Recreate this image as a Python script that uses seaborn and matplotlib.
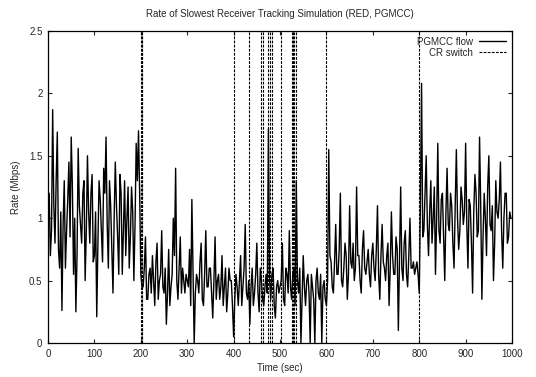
import numpy as np
import pandas as pd
import seaborn as sns
import matplotlib
matplotlib.use("Agg")
import matplotlib.pyplot as plt

# rate samples at t = 0, 5, 10, ...
rate_0_100 = [1.0, 0.7, 1.87, 0.8, 1.69, 0.6, 0.26, 1.3, 0.9, 1.45, 1.65, 0.55, 0.25, 1.56, 0.95, 1.2, 0.5, 1.5, 0.8, 1.35]
rate_100_200 = [0.7, 0.21, 1.3, 0.9, 1.4, 1.65, 0.6, 1.1, 0.4, 1.45, 0.85, 1.35, 0.55, 1.3, 1.0, 0.6, 1.25, 0.5, 1.6, 1.7]
rate_200_300 = [0.55, 0.45, 0.85, 0.35, 0.6, 0.7, 0.3, 0.8, 0.5, 0.9, 0.4, 0.15, 0.75, 0.45, 1.0, 1.4, 0.35, 0.85, 0.6, 0.4]
rate_300_400 = [0.5, 0.75, 1.15, 0.0, 0.55, 0.4, 0.8, 0.3, 0.9, 0.45, 0.6, 0.2, 0.85, 0.5, 0.35, 0.7, 0.45, 0.25, 0.6, 0.5]
rate_400_500 = [0.05, 0.55, 0.3, 0.7, 0.45, 0.95, 0.35, 0.15, 0.6, 0.4, 0.8, 0.25, 0.5, 0.3, 0.55, 1.72, 0.35, 0.6, 0.2, 0.5]
rate_500_600 = [0.45, 0.8, 0.3, 0.55, 0.9, 0.35, 0.6, 1.3, 0.4, 0.0, 0.7, 0.3, 0.55, 0.0, 0.45, 0.0, 0.6, 0.35, 0.0, 0.5]
rate_600_700 = [0.3, 1.55, 0.65, 0.4, 0.95, 0.55, 1.2, 0.45, 0.8, 0.35, 1.1, 0.6, 0.5, 1.25, 0.7, 0.4, 0.9, 0.55, 0.75, 0.45]
rate_700_800 = [0.8, 0.5, 1.1, 0.35, 0.95, 0.6, 0.7, 0.3, 1.05, 0.55, 0.85, 0.1, 1.25, 0.5, 0.9, 0.45, 1.0, 0.6, 0.55, 0.65]
rate_800_900 = [0.4, 2.08, 0.9, 1.5, 0.7, 1.3, 1.0, 0.55, 1.6, 0.8, 1.2, 0.5, 1.4, 0.9, 1.1, 0.6, 1.55, 0.75, 1.25, 0.95]
rate_900_1000 = [1.6, 0.6, 1.1, 0.4, 1.35, 0.85, 1.65, 0.35, 1.2, 0.7, 1.5, 0.9, 0.5, 1.3, 1.0, 1.45, 0.6, 1.2, 0.8, 1.05]

# rate samples at t = 2.5, 7.5, 12.5, ...
mid_0_100 = [1.2, 0.9, 1.1, 1.3, 0.75, 1.05, 0.95, 0.6, 1.15, 0.85, 1.25, 1.0, 0.7, 1.1, 0.8, 1.3, 0.9, 1.05, 1.2, 0.65]
mid_100_200 = [1.05, 0.8, 1.15, 0.65, 1.2, 0.95, 1.3, 0.75, 1.0, 1.1, 0.55, 1.2, 0.9, 0.7, 1.25, 0.85, 1.05, 0.95, 1.3, 1.2]
mid_200_300 = [0.45, 0.6, 0.35, 0.55, 0.4, 0.5, 0.65, 0.35, 0.55, 0.45, 0.6, 0.4, 0.3, 0.55, 0.7, 0.5, 0.6, 0.4, 0.5, 0.55]
mid_300_400 = [0.45, 0.3, 0.6, 0.4, 0.5, 0.65, 0.35, 0.55, 0.45, 0.6, 0.4, 0.5, 0.35, 0.55, 0.45, 0.3, 0.6, 0.4, 0.5, 0.3]
mid_400_500 = [0.35, 0.45, 0.5, 0.3, 0.6, 0.4, 0.5, 0.45, 0.3, 0.55, 0.4, 0.6, 0.35, 0.45, 0.4, 0.5, 0.55, 0.3, 0.45, 0.4]
mid_500_600 = [0.5, 0.35, 0.6, 0.4, 0.45, 0.55, 0.3, 0.5, 0.6, 0.35, 0.45, 0.5, 0.4, 0.55, 0.35, 0.5, 0.4, 0.55, 0.45, 0.35]
mid_600_700 = [0.5, 0.7, 0.45, 0.65, 0.55, 0.75, 0.5, 0.6, 0.7, 0.55, 0.65, 0.8, 0.6, 0.7, 0.5, 0.75, 0.6, 0.65, 0.55, 0.7]
mid_700_800 = [0.6, 0.75, 0.55, 0.7, 0.65, 0.5, 0.8, 0.6, 0.7, 0.55, 0.75, 0.65, 0.6, 0.8, 0.55, 0.7, 0.6, 0.65, 0.6, 0.55]
mid_800_900 = [1.1, 0.85, 1.2, 0.95, 1.05, 0.8, 1.25, 1.0, 0.9, 1.15, 0.85, 1.05, 0.95, 1.2, 0.8, 1.1, 1.0, 0.9, 1.15, 1.05]
mid_900_1000 = [0.95, 1.15, 0.8, 1.05, 1.2, 0.9, 1.1, 0.85, 1.0, 1.25, 0.95, 1.1, 0.8, 1.05, 1.15, 0.9, 1.0, 1.2, 0.85, 1.0]

rate = (rate_0_100 + rate_100_200 + rate_200_300 + rate_300_400 + rate_400_500
        + rate_500_600 + rate_600_700 + rate_700_800 + rate_800_900 + rate_900_1000)
mid = (mid_0_100 + mid_100_200 + mid_200_300 + mid_300_400 + mid_400_500
       + mid_500_600 + mid_600_700 + mid_700_800 + mid_800_900 + mid_900_1000)
time = [5 * i for i in range(len(rate))]
time_mid = [5 * i + 2.5 for i in range(len(mid))]

# times of the CR switches
switch_times = [200, 201.5, 203, 401, 434, 460, 463, 475, 478, 482, 502, 525, 528, 531, 534, 599, 800]

x_ticks = [0, 100, 200, 300, 400, 500, 600, 700, 800, 900, 1000]
y_ticks = [0, 0.5, 1, 1.5, 2, 2.5]
y_ticklabels = ["0", "0.5", "1", "1.5", "2", "2.5"]

df = pd.DataFrame({"time": time + time_mid, "rate": rate + mid}).sort_values("time")

sns.set_style("ticks")
plt.rcParams["font.family"] = ["Liberation Sans", "DejaVu Sans"]

fig = plt.figure(figsize=(5.36, 3.77), dpi=100)
ax = fig.add_axes([0.0896, 0.0902, 0.8657, 0.8276])

sns.lineplot(data=df, x="time", y="rate", ax=ax, color="black", linewidth=1.0,
             label="PGMCC flow", sort=True)
for i, s in enumerate(switch_times):
    ax.axvline(s, color="black", linewidth=0.8, linestyle=(0, (2.5, 1.2)),
               label="CR switch" if i == 0 else None)

ax.set_xlim(0, 1000)
ax.set_ylim(0, 2.5)
ax.set_xticks(x_ticks)
ax.set_yticks(y_ticks)
ax.set_yticklabels(y_ticklabels)
ax.tick_params(direction="in", top=True, right=True, length=3, width=0.8, labelsize=7, pad=4)
for sp in ax.spines.values():
    sp.set_linewidth(0.9)
    sp.set_color("black")
ax.set_xlabel("Time (sec)", fontsize=7, labelpad=3)
ax.set_ylabel("Rate (Mbps)", fontsize=7, labelpad=6)
ax.set_title("Rate of Slowest Receiver Tracking Simulation (RED, PGMCC)", fontsize=7, pad=10)

leg = ax.legend(loc="upper right", frameon=False, fontsize=7, markerfirst=False,
                handlelength=2.8, borderaxespad=0.2, labelspacing=0.1, handletextpad=0.6)

fig.savefig("out.png", dpi=100)
